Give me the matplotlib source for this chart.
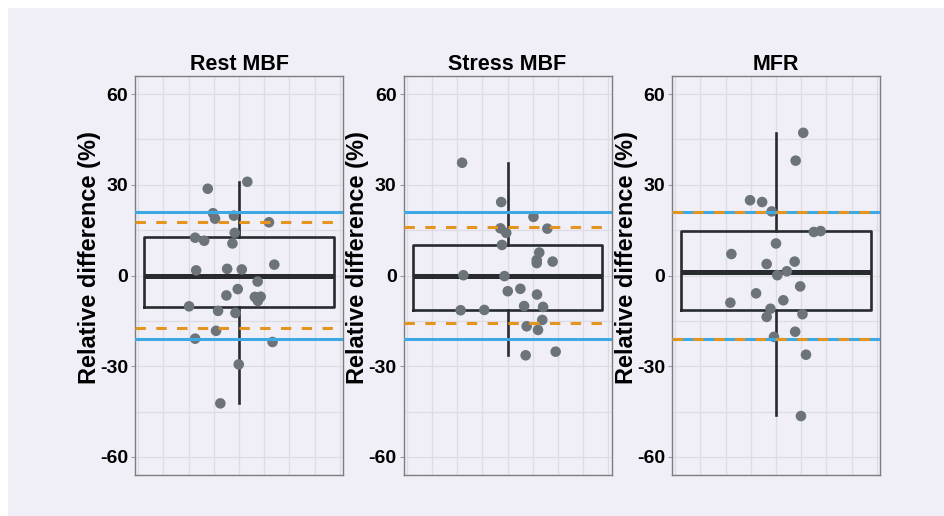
import matplotlib
matplotlib.use("Agg")
import matplotlib.pyplot as plt
from matplotlib.patches import Rectangle
from matplotlib.ticker import MultipleLocator

plt.rcParams["font.family"] = ["Liberation Sans", "DejaVu Sans"]
plt.rcParams["font.weight"] = "bold"
plt.rcParams["axes.unicode_minus"] = False

# ---- data -------------------------------------------------------------
panel_titles = ["Rest MBF", "Stress MBF", "MFR"]

rest_diff = [31.0, 28.7, 20.6, 18.8, 19.8, 17.6, 14.1, 12.5, 11.5, 10.6,
             3.6, 1.7, 2.2, 2.0, -2.0, -4.5, -6.6, -7.1, -7.0, -8.4,
             -10.2, -11.7, -12.4, -18.3, -20.9, -22.0, -29.4, -42.3]
rest_jitter = [0.033, -0.124, -0.103, -0.095, -0.020, 0.119, -0.017, -0.174,
               -0.138, -0.026, 0.140, -0.170, -0.047, 0.011, 0.074, -0.005,
               -0.050, 0.063, 0.086, 0.075, -0.198, -0.083, -0.014, -0.091,
               -0.174, 0.133, -0.001, -0.074]

stress_diff = [37.3, 24.3, 19.4, 15.6, 14.1, 15.5, 10.1, 7.6, 5.1, 4.1,
               4.6, 0.1, -0.2, -5.2, -4.4, -6.3, -10.1, -10.4, -11.5, -11.4,
               -14.7, -16.8, -18.0, -26.4, -25.2]
stress_jitter = [-0.180, -0.025, 0.103, -0.028, -0.005, 0.158, -0.022, 0.126,
                 0.116, 0.116, 0.179, -0.175, -0.012, 0.001, 0.051, 0.117,
                 0.066, 0.141, -0.186, -0.092, 0.138, 0.076, 0.121, 0.072,
                 0.191]

mfr_diff = [47.2, 38.0, 24.9, 24.3, 21.2, 14.4, 14.7, 10.6, 7.1, 3.8,
            4.6, 1.4, 0.1, -3.6, -5.9, -9.0, -8.2, -11.0, -13.7, -12.8,
            -18.6, -20.3, -26.2, -46.5]
mfr_jitter = [0.108, 0.078, -0.103, -0.055, -0.017, 0.150, 0.177, 0.0,
              -0.177, -0.037, 0.074, 0.043, 0.005, 0.096, -0.079, -0.181,
              0.029, -0.022, -0.037, 0.105, 0.076, -0.008, 0.119, 0.099]

# box summary per panel
box_q1 = [-10.5, -11.4, -11.4]
box_median = [-0.1, -0.1, 1.0]
box_q3 = [12.9, 10.1, 14.8]
whisker_low = [-42.3, -26.4, -46.3]
whisker_high = [31.0, 37.3, 47.0]

# reference limits (solid blue) and limits of agreement (dashed orange)
ref_upper = [21.0, 21.0, 21.0]
ref_lower = [-21.0, -21.0, -21.0]
loa_upper = [17.6, 15.9, 21.0]
loa_lower = [-17.4, -15.8, -21.0]

y_ticks = [-60, -30, 0, 30, 60]
y_label = "Relative difference (%)"

diffs = [rest_diff, stress_diff, mfr_diff]
jitters = [rest_jitter, stress_jitter, mfr_jitter]

# ---- figure -------------------------------------------------------------
W, H = 944, 516
bg = "#f0eff8"
fig = plt.figure(figsize=(W / 100, H / 100), dpi=100, facecolor="white")
fig.patches.append(Rectangle((8 / W, 0), 1 - 8 / W, (H - 8) / H,
                             transform=fig.transFigure, facecolor=bg,
                             edgecolor="none", zorder=-10))

lefts = [135, 403.5, 672]
ax_w, ax_top, ax_bot = 208, 76, 475
box_color = "#272b2e"
grid_color = "#dddce5"

for i in range(3):
    ax = fig.add_axes([lefts[i] / W, (H - ax_bot) / H, ax_w / W,
                       (ax_bot - ax_top) / H])
    ax.set_facecolor(bg)
    ax.set_xlim(-0.4125, 0.4125)
    ax.set_ylim(-66, 66)

    ax.xaxis.set_major_locator(MultipleLocator(0.1))
    ax.grid(True, axis="x", color=grid_color, linewidth=0.9)
    ax.set_axisbelow(True)
    ax.set_xticklabels([])
    ax.tick_params(axis="x", length=0)

    ax.set_yticks(y_ticks)
    ax.set_yticks([-45, -15, 15, 45], minor=True)
    ax.grid(True, which="both", axis="y", color=grid_color, linewidth=0.9)
    ax.tick_params(axis="y", which="minor", length=0)
    ax.tick_params(axis="y", which="major", length=3, width=0.8,
                   color="#9a9a9a", labelsize=14, pad=2)
    for lab in ax.get_yticklabels():
        lab.set_fontweight("bold")
        lab.set_color("black")

    for sp in ax.spines.values():
        sp.set_color("#7d7d7d")
        sp.set_linewidth(1.0)

    stats = [dict(q1=box_q1[i], med=box_median[i], q3=box_q3[i],
                  whislo=whisker_low[i], whishi=whisker_high[i], fliers=[])]
    ax.bxp(stats, positions=[0], widths=0.75, showcaps=False,
           showfliers=False, patch_artist=False,
           boxprops=dict(color=box_color, linewidth=1.9),
           whiskerprops=dict(color=box_color, linewidth=1.9),
           medianprops=dict(color=box_color, linewidth=3.6,
                            solid_capstyle="butt"),
           manage_ticks=False, zorder=3)

    ax.scatter(jitters[i], diffs[i], s=58, color="#6d7479",
               edgecolors="none", zorder=4)

    for yv in (ref_upper[i], ref_lower[i]):
        ax.axhline(yv, color="#3ea8e2", linewidth=2.2, zorder=5)
    for yv in (loa_upper[i], loa_lower[i]):
        ax.axhline(yv, color="#e3951f", linewidth=2.2, dashes=(3.4, 3.4),
                   zorder=6)

    ax.set_title(panel_titles[i], fontsize=15.5, fontweight="bold", pad=4)
    ax.set_ylabel(y_label, fontsize=17, fontweight="bold")
    ax.yaxis.set_label_coords(-0.165, 0.545)

fig.savefig("out.png", dpi=100, facecolor="white")
